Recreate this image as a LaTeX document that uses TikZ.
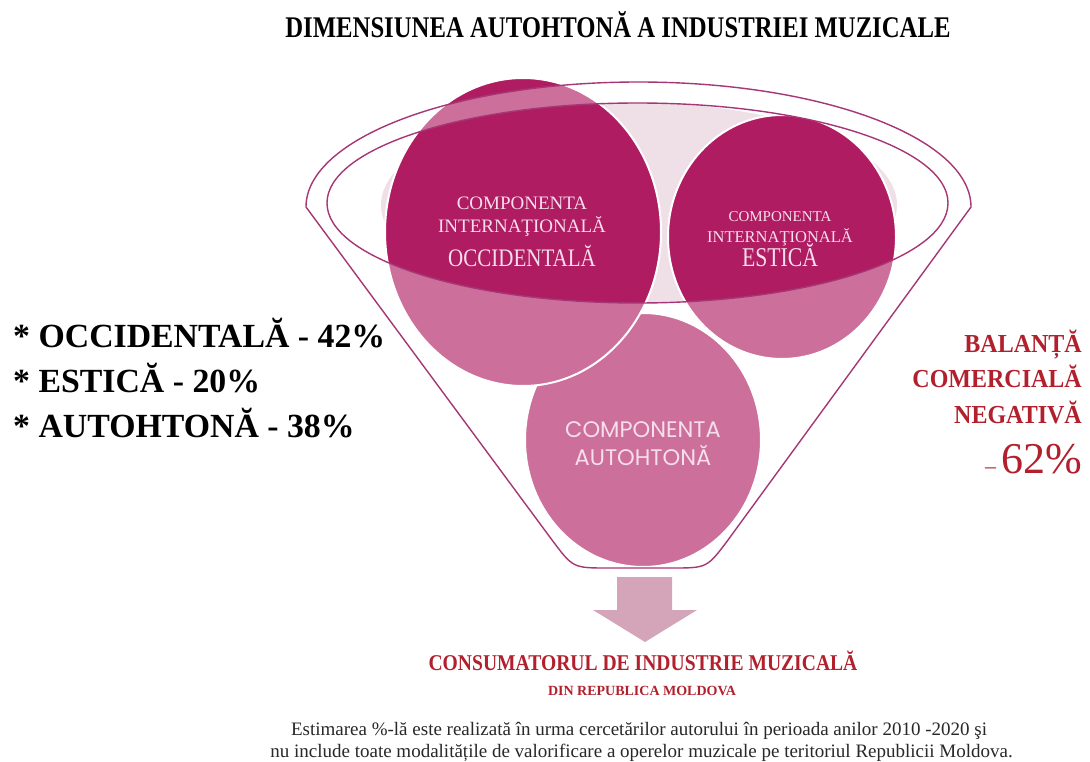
\documentclass[tikz,border=0pt]{standalone}
\usepackage{fontspec}
\usepackage{graphicx}
\setmainfont{Liberation Serif}
\newfontfamily\gothic{Poppins}
\definecolor{dkmag}{RGB}{176,28,98}
\definecolor{rimcol}{RGB}{165,55,118}
\definecolor{lightin}{RGB}{238,224,230}
\definecolor{arrowcol}{RGB}{212,165,184}
\definecolor{redtxt}{RGB}{178,32,46}
\definecolor{ctext}{RGB}{246,222,236}
\definecolor{foot}{RGB}{40,40,40}
\newcommand\fs[1]{\fontsize{#1}{#1}\selectfont}
\def\funnelpath{(306,207) -- (552,540) .. controls (573,568) .. (608,568) -- (672,568) .. controls (707,568) .. (728,540) -- (971,207) arc[start angle=0, end angle=-180, x radius=332.5, y radius=125] -- cycle}
\begin{document}
\begin{tikzpicture}[x=1pt,y=-1pt,
  txt/.style={inner sep=0pt, anchor=base},
  ctxt/.style={txt, text=ctext},
  circ/.style={fill=dkmag, draw=white, line width=2pt},
  rim/.style={draw=rimcol, line width=1.4pt}]
\useasboundingbox (0,0) rectangle (1090,762);
\fill[white] (0,0) rectangle (1090,762);
% light interior of the funnel mouth
\begin{scope}
  \clip (637.5,203) ellipse [x radius=310.5, y radius=100];
  \fill[lightin] (639,205) ellipse [x radius=258, y radius=102];
\end{scope}
% circles
\path[circ] (643,440) ellipse [x radius=118, y radius=127];
\path[circ] (523,232) ellipse [x radius=138, y radius=154];
\path[circ] (782,237) ellipse [x radius=114, y radius=122];
% translucent funnel body
\fill[white, fill opacity=0.37, even odd rule] \funnelpath (637.5,203) ellipse [x radius=310.5, y radius=100];
% outlines
\draw[rim] \funnelpath;
\draw[rim] (637.5,203) ellipse [x radius=310.5, y radius=100];
% arrow
\fill[arrowcol] (617,577) -- (672,577) -- (672,610) -- (697,610) -- (645,642) -- (593,610) -- (617,610) -- cycle;
% title
\node[txt] (title) at (618,38) {\scalebox{1.03}[1.25]{\fs{24}\bfseries DIMENSIUNEA AUTOHTONĂ A INDUSTRIEI MUZICALE}};
% circle texts
\node[ctxt] (oc1) at (522,210) {\fs{19}COMPONENTA};
\node[ctxt] (oc2) at (522,233) {\fs{19}INTERNAŢIONALĂ};
\node[ctxt] (oc3) at (522,267) {\scalebox{1}[1.2]{\fs{21}OCCIDENTALĂ}};
\node[ctxt] (es1) at (780,222) {\fs{15}COMPONENTA};
\node[ctxt] (es2) at (780,243) {\fs{16.5}INTERNAŢIONALĂ};
\node[ctxt] (es3) at (780,267) {\scalebox{1}[1.25]{\fs{21.7}ESTICĂ}};
\node[ctxt] (au1) at (643,437) {\gothic\fs{22.5}COMPONENTA};
\node[ctxt] (au2) at (643,465) {\gothic\fs{22.5}AUTOHTONĂ};
% left list
\node[txt, anchor=base west] (l1) at (13,347) {\fs{33.8}\bfseries * OCCIDENTALĂ - 42\%};
\node[txt, anchor=base west] (l2) at (13,392) {\fs{33.8}\bfseries * ESTICĂ - 20\%};
\node[txt, anchor=base west] (l3) at (13,437) {\fs{33.8}\bfseries * AUTOHTONĂ - 38\%};
% right labels
\node[txt, anchor=base east, text=redtxt] (r1) at (1082,352) {\scalebox{1}[1.08]{\fs{24}\bfseries BALANȚĂ}};
\node[txt, anchor=base east, text=redtxt] (r2) at (1082,387) {\scalebox{1}[1.08]{\fs{24}\bfseries COMERCIALĂ}};
\node[txt, anchor=base east, text=redtxt] (r3) at (1082,423) {\scalebox{1}[1.08]{\fs{24}\bfseries NEGATIVĂ}};
\node[txt, anchor=base east, text=redtxt] (r4) at (1082,473) {{\fs{22}–}\kern5pt{\fs{44}62\%}};
% bottom labels
\node[txt, text=redtxt] (cons) at (643,670) {\scalebox{1}[1.15]{\fs{19.6}\bfseries CONSUMATORUL DE INDUSTRIE MUZICALĂ}};
\node[txt, text=redtxt] (din) at (642,695) {\fs{14}\bfseries DIN REPUBLICA MOLDOVA};
\node[txt, text=foot] (f1) at (639,735) {\fs{19}Estimarea \%-lă este realizată în urma cercetărilor autorului în perioada anilor 2010 -2020 şi};
\node[txt, text=foot] (f2) at (641.5,757) {\fs{19}nu include toate modalitățile de valorificare a operelor muzicale pe teritoriul Republicii Moldova.};
\end{tikzpicture}
\end{document}
